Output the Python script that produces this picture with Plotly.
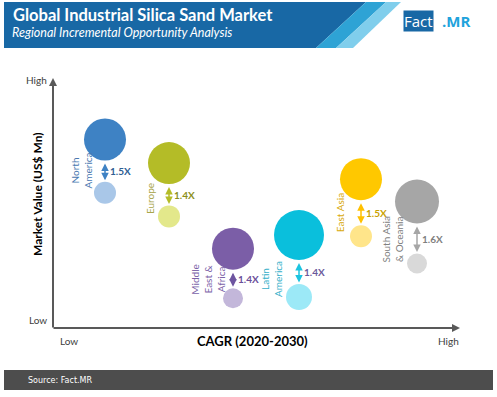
import plotly.graph_objects as go

# ---------------- data ----------------
regions = ["North America", "Europe", "Middle East & Africa", "Latin America",
           "East Asia", "South Asia & Oceania"]
region_labels = ["North<br>America", "Europe", "Middle<br>East &<br>Africa",
                 "Latin<br>America", "East Asia", "South Asia<br>& Oceania"]
cagr = [13, 29, 45, 61.5, 77, 91]              # relative CAGR position (0-100)
value_2030 = [76, 66.5, 32, 37.5, 60, 51]      # relative market value, 2030
value_2020 = [54.5, 45, 12, 12.5, 37, 26]      # relative market value, 2020
size_2030 = [42, 42, 42, 50, 42, 44]
size_2020 = [22, 22, 20, 26, 22, 20]
ratio_labels = ["1.5X", "1.4X", "1.4X", "1.4X", "1.5X", "1.6X"]

# ---------------- styles ----------------
big_colors = ["#3E82C4", "#B4BC27", "#7B5EA7", "#0ABFDC", "#FFC800", "#A6A6A6"]
small_colors = ["#A9C7E8", "#E3E88B", "#C3B7DA", "#9CE9F7", "#FFE58A", "#D9D9D9"]
arrow_colors = ["#3E82C4", "#B4BC27", "#6E55A0", "#1BC4E0", "#FFC000", "#A6A6A6"]
label_colors = ["#4A78B0", "#A8A54A", "#7B62A8", "#34AFC9", "#D9A90A", "#808080"]
ratio_colors = ["#2E5E93", "#8C8F1C", "#6A4E9A", "#6B5A9B", "#C9A100", "#7F7F7F"]
label_shift = [(-23, -31), (-19, -36), (-25, -31), (-28, -44), (-21, -34), (-24, -38)]

W, H = 497, 397
X0, X1, Y0, Y1 = 53, 453, 80, 328   # plot area in pixels
PX_PER_Y = (Y1 - Y0) / 100.0


def pxx(px):
    return px / W


def pxy(py):
    return 1 - py / H


FONT = "Lato"
fig = go.Figure()

fig.add_trace(go.Scatter(
    x=cagr, y=value_2020, mode="markers",
    marker=dict(size=size_2020, color=small_colors, opacity=1, line=dict(width=0)),
    hoverinfo="skip", showlegend=False))
fig.add_trace(go.Scatter(
    x=cagr, y=value_2030, mode="markers",
    marker=dict(size=size_2030, color=big_colors, opacity=1, line=dict(width=0)),
    text=regions, hoverinfo="text", showlegend=False))

ann = []
for i in range(len(regions)):
    top = value_2030[i] - (size_2030[i] / 2 + 1.5) / PX_PER_Y
    bot = value_2020[i] + (size_2020[i] / 2 + 1.5) / PX_PER_Y
    ann.append(dict(x=cagr[i], y=bot, ax=cagr[i], ay=top, xref="x", yref="y",
                    axref="x", ayref="y", text="", showarrow=True,
                    arrowhead=2, arrowside="end+start", arrowsize=1,
                    arrowwidth=1.5, arrowcolor=arrow_colors[i]))
    ann.append(dict(x=cagr[i], y=(top + bot) / 2, xref="x", yref="y",
                    text="<b>" + ratio_labels[i] + "</b>", showarrow=False,
                    xanchor="left", yanchor="middle", xshift=3,
                    font=dict(family=FONT, size=10, color=ratio_colors[i])))
    ann.append(dict(x=cagr[i], y=value_2030[i], xref="x", yref="y",
                    text=region_labels[i], showarrow=False, textangle=-90,
                    xanchor="center", yanchor="middle",
                    xshift=label_shift[i][0], yshift=label_shift[i][1],
                    font=dict(family=FONT, size=10, color=label_colors[i])))

# axis arrows (pixel offsets for the tails)
ann.append(dict(x=pxx(53), y=pxy(78), ax=0, ay=251, xref="paper", yref="paper",
                axref="pixel", ayref="pixel", text="", showarrow=True, arrowhead=2,
                arrowsize=0.8, arrowwidth=2, arrowcolor="#595959"))
ann.append(dict(x=pxx(460), y=pxy(328), ax=-408, ay=0, xref="paper", yref="paper",
                axref="pixel", ayref="pixel", text="", showarrow=True, arrowhead=2,
                arrowsize=0.8, arrowwidth=2, arrowcolor="#595959"))

# axis text
small = dict(family=FONT, size=10, color="#404040")
axis_txt = [
    dict(x=pxx(36), y=pxy(80), text="High", showarrow=False, font=small),
    dict(x=pxx(38), y=pxy(320), text="Low", showarrow=False, font=small),
    dict(x=pxx(69), y=pxy(341), text="Low", showarrow=False, font=small),
    dict(x=pxx(448), y=pxy(341), text="High", showarrow=False, font=small),
    dict(x=pxx(252), y=pxy(341), text="<b>CAGR (2020-2030)</b>", showarrow=False,
         font=dict(family=FONT, size=13, color="#000000")),
    dict(x=pxx(37), y=pxy(194), text="<b>Market Value (US$ Mn)</b>", showarrow=False,
         textangle=-90, font=dict(family=FONT, size=12, color="#000000")),
]
for a in axis_txt:
    a.update(xref="paper", yref="paper", xanchor="center", yanchor="middle")
ann += axis_txt

# header / footer text
ann += [
    dict(x=pxx(11), y=pxy(15), xref="paper", yref="paper", xanchor="left", yanchor="middle",
         text="<b>Global Industrial Silica Sand Market</b>", showarrow=False,
         font=dict(family=FONT, size=16.5, color="#FFFFFF")),
    dict(x=pxx(10), y=pxy(33), xref="paper", yref="paper", xanchor="left", yanchor="middle",
         text="<i>Regional Incremental Opportunity Analysis</i>", showarrow=False,
         font=dict(family=FONT, size=12.5, color="#FFFFFF")),
    dict(x=pxx(403), y=pxy(21), xref="paper", yref="paper", xanchor="left", yanchor="middle",
         text="Fact", showarrow=False, bgcolor="#1868A5", borderpad=0,
         font=dict(family="Open Sans", size=15, color="#FFFFFF")),
    dict(x=pxx(440), y=pxy(21), xref="paper", yref="paper", xanchor="left", yanchor="middle",
         text="<b>.MR</b>", showarrow=False,
         font=dict(family="Open Sans", size=15, color="#1FA3DC")),
    dict(x=pxx(26), y=pxy(380), xref="paper", yref="paper", xanchor="left",
         yanchor="middle",
         text="Source: Fact.MR", showarrow=False,
         font=dict(family="DejaVu Sans", size=8, color="#FFFFFF")),
]


def poly(pts):
    return "M " + " L ".join(f"{pxx(a):.5f},{pxy(b):.5f}" for a, b in pts) + " Z"


shapes = [
    dict(type="path", xref="paper", yref="paper", line=dict(width=0), fillcolor="#1868A5",
         path=poly([(4, 2), (366, 2), (316, 48), (4, 48)]), layer="below"),
    dict(type="path", xref="paper", yref="paper", line=dict(width=0), fillcolor="#2EA3D5",
         path=poly([(366, 2), (386, 2), (336, 48), (316, 48)]), layer="below"),
    dict(type="path", xref="paper", yref="paper", line=dict(width=0), fillcolor="#80CEEC",
         path=poly([(386, 2), (401, 2), (353, 48), (336, 48)]), layer="below"),
    dict(type="rect", xref="paper", yref="paper", line=dict(width=0), fillcolor="#4D4D4D",
         x0=pxx(4), x1=pxx(493), y0=pxy(390), y1=pxy(370), layer="below"),
]

fig.update_layout(
    width=W, height=H, margin=dict(l=0, r=0, t=0, b=0),
    paper_bgcolor="#FFFFFF", plot_bgcolor="rgba(0,0,0,0)",
    xaxis=dict(domain=[X0 / W, X1 / W], range=[0, 100], visible=False, fixedrange=True),
    yaxis=dict(domain=[1 - Y1 / H, 1 - Y0 / H], range=[0, 100], visible=False, fixedrange=True),
    annotations=ann, shapes=shapes, showlegend=False,
)

fig.write_html("out.html", config={"displayModeBar": False},
               post_script="document.body.style.margin='0';document.body.style.overflow='hidden';")
